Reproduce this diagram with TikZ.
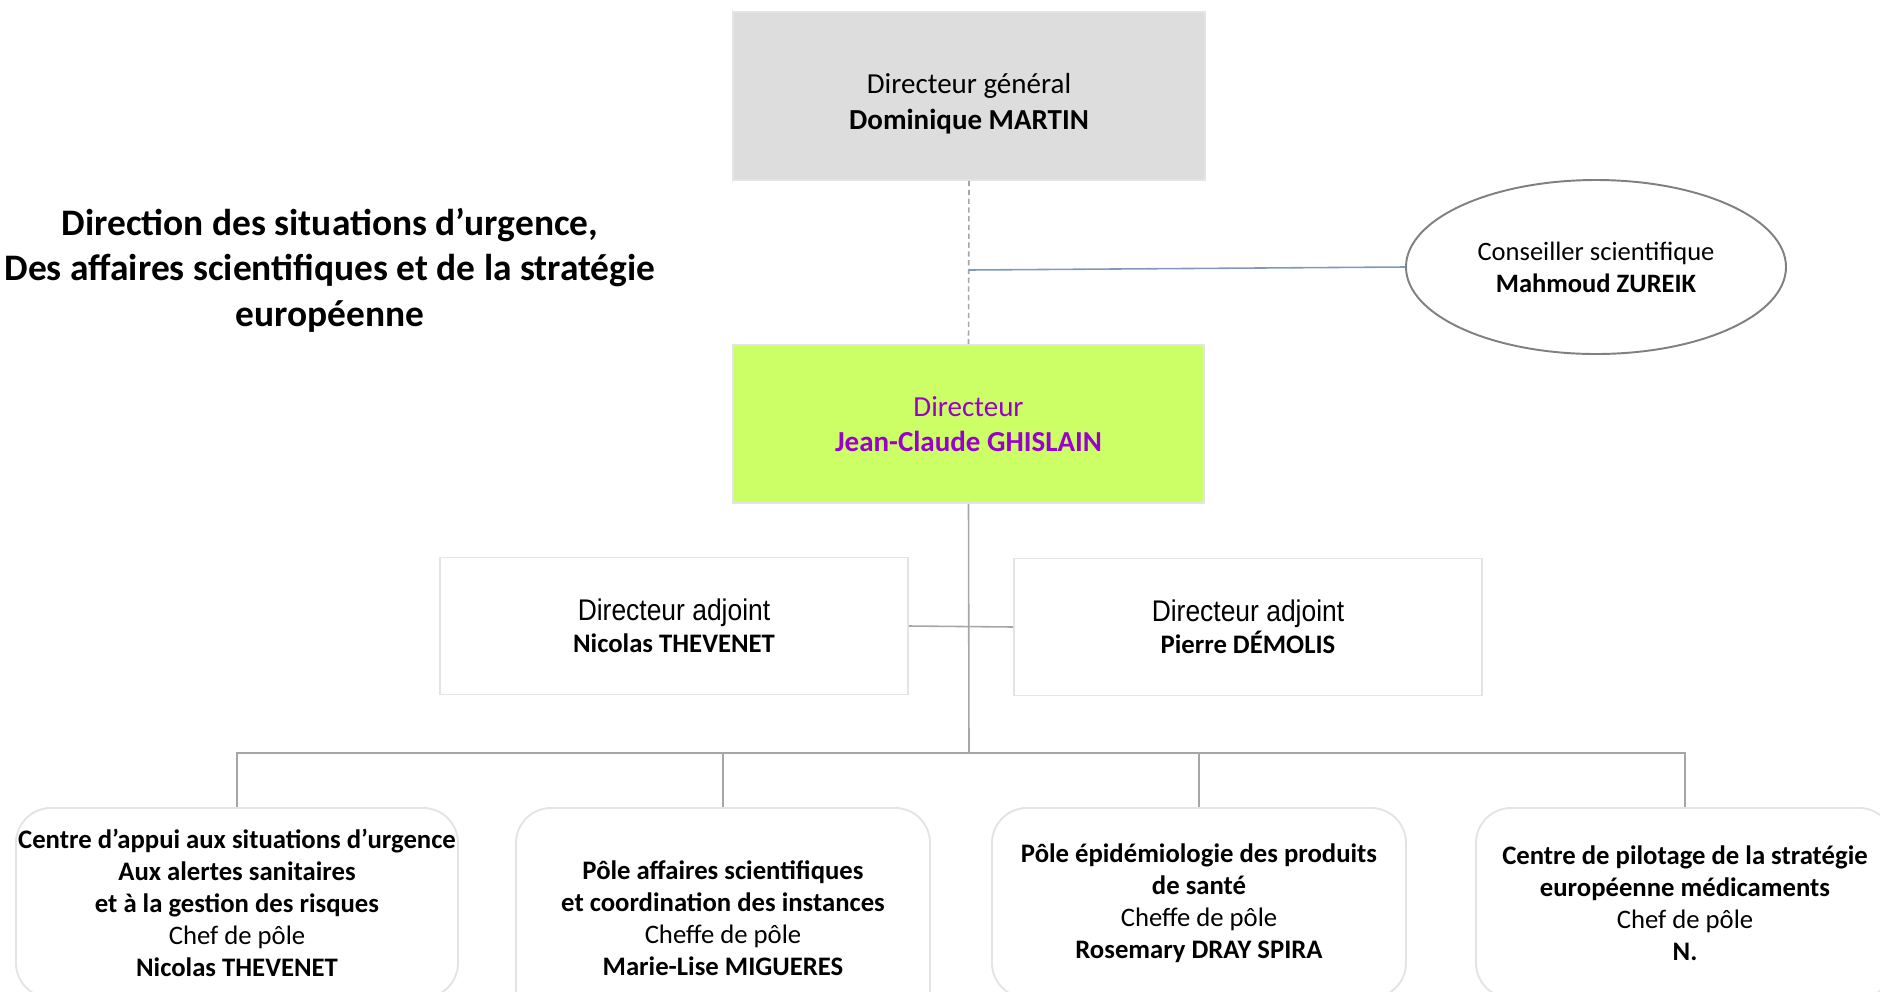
\documentclass[tikz,border=0pt]{standalone}
\usepackage{fontspec}
\setmainfont{Carlito}
\newfontfamily\arialn[FakeStretch=0.885]{Liberation Sans}
\usetikzlibrary{shapes.geometric}

\definecolor{dggray}{HTML}{DDDDDD}
\definecolor{dirgreen}{HTML}{CCFF66}
\definecolor{dirpurple}{HTML}{9900CC}
\definecolor{framegray}{HTML}{E4E4E4}
\definecolor{linegray}{HTML}{A6A6A6}
\definecolor{linkblue}{HTML}{7F98BC}

\tikzset{
  orgbox/.style={draw=framegray, line width=1.1pt, align=center, inner sep=0pt},
  dgbox/.style={orgbox, fill=dggray, minimum width=9.44cm, minimum height=3.36cm,
    font=\fontsize{16.5}{20.5}\selectfont},
  dirbox/.style={orgbox, fill=dirgreen, text=dirpurple, minimum width=9.42cm, minimum height=3.16cm,
    font=\fontsize{16.5}{20}\selectfont},
  adjbox/.style={orgbox, minimum width=9.36cm, minimum height=2.74cm,
    font=\fontsize{15.2}{18.2}\selectfont},
  polebox/.style={orgbox, rounded corners=0.7cm, anchor=north, minimum height=3.8cm,
    font=\fontsize{15.2}{18.2}\selectfont},
  conseil/.style={ellipse, draw=gray, line width=1.1pt, align=center, inner sep=0pt,
    minimum width=7.6cm, minimum height=3.48cm, font=\fontsize{15.1}{18.2}\selectfont},
  link/.style={draw=linegray, line width=0.9pt},
}

\begin{document}
\begin{tikzpicture}[y=-1cm]
  \useasboundingbox (0,0) rectangle (37.6,19.82);
  \clip (0,0) rectangle (37.6,19.82);

  % titre
  \node[align=center, font=\fontsize{21.3}{25.9}\selectfont\bfseries] (title) at (6.6,5.4)
    {Direction des situations d’urgence,\\Des affaires scientifiques et de la stratégie\\européenne};

  % direction
  \node[dgbox] (dg) at (19.38,1.92) {\rule{0pt}{20.5pt}Directeur général\\\textbf{Dominique MARTIN}};
  \node[dirbox] (dir) at (19.37,8.48) {Directeur\\\textbf{Jean-Claude GHISLAIN}};
  \node[conseil] (cons) at (31.92,5.34) {Conseiller scientifique\\\textbf{Mahmoud ZUREIK}};
  \coordinate (ln) at (19.38,5.40);

  % adjoints
  \node[adjbox] (adj1) at (13.48,12.52) {{\arialn\fontsize{17}{18.2}\selectfont Directeur adjoint}\\\textbf{Nicolas THEVENET}};
  \node[adjbox] (adj2) at (24.96,12.54) {{\arialn\fontsize{17}{18.2}\selectfont Directeur adjoint}\\\textbf{Pierre DÉMOLIS}};

  % poles
  \node[polebox, minimum width=8.84cm] (p1) at (4.74,16.14)
    {\textbf{Centre d’appui aux situations d’urgence}\\\textbf{Aux alertes sanitaires}\\\textbf{et à la gestion des risques}\\Chef de pôle\\\textbf{Nicolas THEVENET}};
  \node[polebox, minimum width=8.28cm, minimum height=4.4cm] (p2) at (14.46,16.14)
    {\textbf{Pôle affaires scientifiques}\\\textbf{et coordination des instances}\\Cheffe de pôle\\\textbf{Marie-Lise MIGUERES}};
  \node[polebox, minimum width=8.28cm] (p3) at (23.98,16.14)
    {\textbf{Pôle épidémiologie des produits}\\\textbf{de santé}\\Cheffe de pôle\\\textbf{Rosemary DRAY SPIRA}};
  \node[polebox, minimum width=8.36cm] (p4) at (33.70,16.14)
    {\textbf{Centre de pilotage de la stratégie}\\\textbf{européenne médicaments}\\Chef de pôle\\\textbf{N.}};
  \coordinate (bus) at (19.38,15.06);

  % liens
  \draw[link, dashed, dash pattern=on 3pt off 2pt] (dg.south) -- (dir.north);
  \draw[draw=linkblue, line width=0.9pt] (ln) -- (cons.west);
  \draw[link] (dir.south) -- (bus);
  \draw[link] (adj1.east) -- (adj2.west);
  \foreach \p in {p1,p2,p3,p4}
    \draw[link] (bus) -| (\p.north);
\end{tikzpicture}
\end{document}
